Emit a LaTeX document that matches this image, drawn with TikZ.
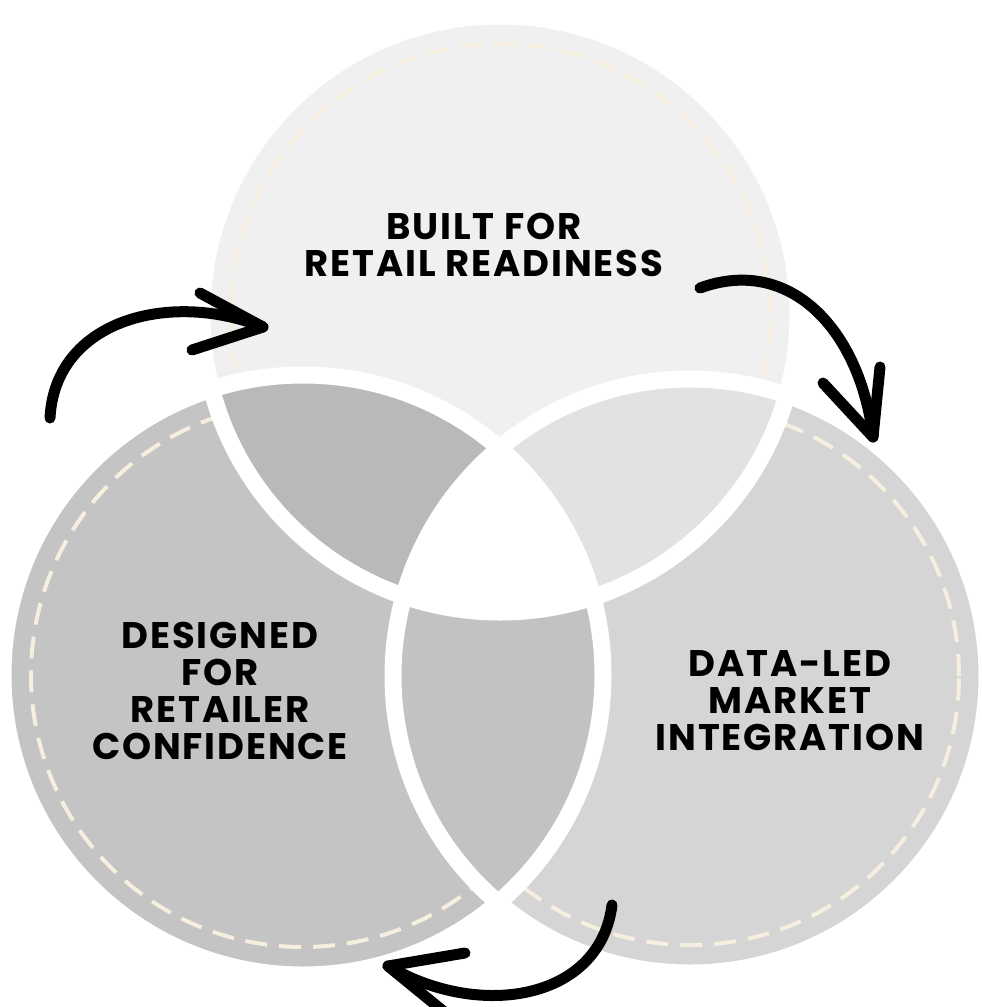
\documentclass[tikz,border=0pt]{standalone}
\usepackage{fontspec}
\setmainfont{Poppins}
\usepackage{tikz}
\definecolor{mytop}{RGB}{240,240,240}
\definecolor{myleft}{RGB}{196,196,196}
\definecolor{myright}{RGB}{213,213,213}
\definecolor{mytopleft}{RGB}{185,185,185}
\definecolor{mytopright}{RGB}{226,226,226}
\definecolor{myleftright}{RGB}{194,194,194}
\definecolor{myseam}{RGB}{246,238,222}
\newcommand{\toparea}{(500,314) circle[radius=298pt]}
\newcommand{\leftarea}{(303,675) circle[radius=300pt]}
\newcommand{\rightarea}{(690,676) circle[radius=297pt]}
\newcommand{\topseam}{(500,314) circle[radius=270pt]}
\newcommand{\leftseam}{(303,675) circle[radius=272pt]}
\newcommand{\rightseam}{(690,676) circle[radius=269pt]}
\newcommand{\gapwidth}{17pt}
\tikzset{
    seam/.style={draw=myseam, line width=4pt, dash pattern=on 22pt off 12pt},
    gap/.style={draw=white, line width=\gapwidth},
    sketch/.style={draw=black, line width=11pt, line cap=round, line join=round},
    venntext/.style={align=center, inner sep=0pt,
        font=\bfseries\addfontfeatures{LetterSpace=5}\fontsize{37}{37}\selectfont}
}

\begin{document}
\begin{tikzpicture}[x=1pt, y=-1pt]
    \useasboundingbox (0,0) rectangle (982,1007);
    \clip (0,0) rectangle (982,1007);

    % discs with their stitched seams
    \fill[mytop] \toparea;
    \draw[seam] \topseam;
    \fill[myleft] \leftarea;
    \draw[seam] \leftseam;
    \fill[myright] \rightarea;
    \draw[seam] \rightseam;

    % overlaps
    \begin{scope}
        \clip \toparea;
        \fill[mytopleft] \leftarea;
        \fill[mytopright] \rightarea;
    \end{scope}
    \begin{scope}
        \clip \leftarea;
        \fill[myleftright] \rightarea;
    \end{scope}
    \begin{scope}
        \clip \toparea;
        \clip \leftarea;
        \fill[white] \rightarea;
    \end{scope}

    % white gaps between the pieces
    \draw[gap] \toparea;
    \draw[gap] \leftarea;
    \draw[gap] \rightarea;

    \node[venntext] (built) at (484,245) {BUILT FOR\\RETAIL READINESS};
    \node[venntext] (designed) at (220,691) {DESIGNED\\FOR\\RETAILER\\CONFIDENCE};
    \node[venntext] (dataled) at (790,701) {DATA-LED\\MARKET\\INTEGRATION};

    % hand drawn arrows
    \coordinate (lefttail) at (50,418);
    \coordinate (lefttip) at (263,327);
    \coordinate (leftbarbup) at (200,293);
    \coordinate (leftbarbdown) at (192,350);
    \coordinate (righttail) at (700,288);
    \coordinate (righttip) at (873,437);
    \coordinate (rightbarbleft) at (823,383);
    \coordinate (rightbarbright) at (880,367);
    \coordinate (bottomtail) at (612,905);
    \coordinate (bottomtip) at (388,966);
    \coordinate (bottombarbup) at (465,953);
    \coordinate (bottombarbdown) at (448,1015);

    \draw[sketch] (lefttail) .. controls (55,320) and (170,290) .. (lefttip);
    \draw[sketch] (leftbarbup) -- (lefttip) -- (leftbarbdown);
    \draw[sketch] (righttail) .. controls (790,255) and (860,330) .. (righttip);
    \draw[sketch] (rightbarbleft) -- (righttip) -- (rightbarbright);
    \draw[sketch] (bottomtail) .. controls (600,1000) and (480,1020) .. (bottomtip);
    \draw[sketch] (bottombarbup) -- (bottomtip) -- (bottombarbdown);
\end{tikzpicture}
\end{document}
